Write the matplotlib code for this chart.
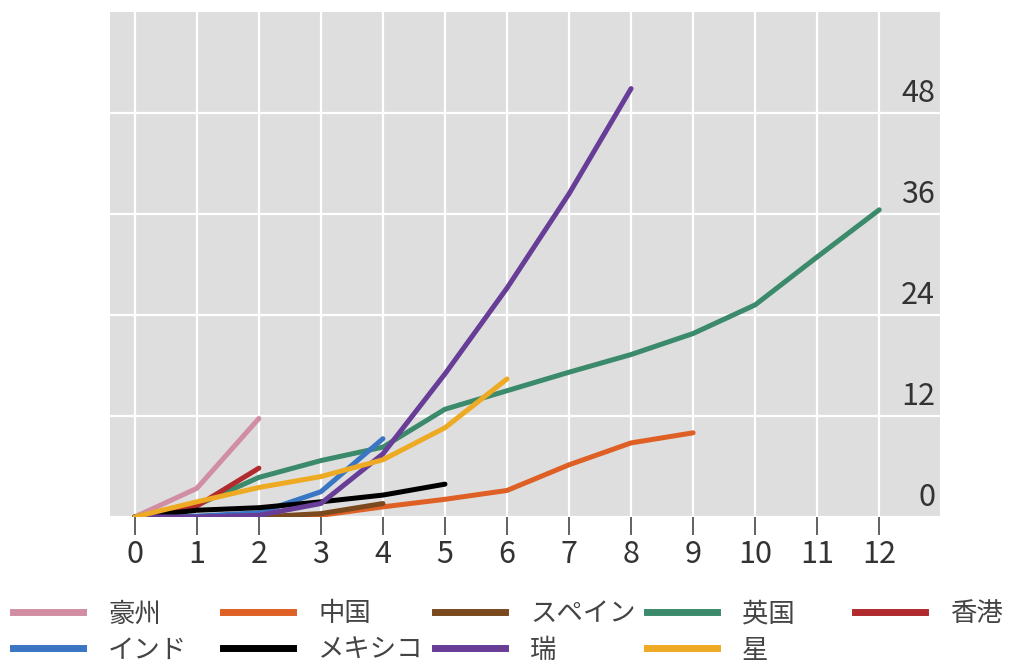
import matplotlib
matplotlib.use("Agg")
import matplotlib.pyplot as plt
import matplotlib.transforms as mtransforms
from matplotlib.lines import Line2D

plt.rcParams['font.family'] = ['Noto Sans CJK JP', 'DejaVu Sans']

# series in drawing order
names = ["豪州", "中国", "スペイン", "英国", "香港", "インド", "メキシコ", "瑞", "星"]
colors = ["#d18ea3", "#de6025", "#7a4a1e", "#3b8a6c", "#b02a2e",
          "#3a76c4", "#000000", "#673d97", "#eeaa22"]

aus = [0, 3.4, 11.7]
china = [0, 0, 0, 0.2, 1.2, 2.1, 3.15, 6.2, 8.8, 10.0]
spain = [0, 0, 0, 0.4, 1.6]
uk = [0, 1.4, 4.7, 6.7, 8.3, 12.8, 15.0, 17.2, 19.3, 21.8, 25.2, 30.9, 36.5]
hk = [0, 1.3, 5.8]
india = [0, 0.1, 0.5, 3.0, 9.3]
mexico = [0, 0.8, 1.1, 1.8, 2.6, 3.9]
swiss = [0, 0, 0.2, 1.6, 7.5, 17.0, 27.2, 38.4, 50.9]
sing = [0, 1.8, 3.5, 4.8, 6.8, 10.6, 16.4]
series = [aus, china, spain, uk, hk, india, mexico, swiss, sing]

x_ticks = list(range(13))
y_ticks = [0, 12, 24, 36, 48]

fig = plt.figure(figsize=(10.25, 6.7), dpi=100)
ax = fig.add_axes([0.1073, 0.2284, 0.8098, 0.7537])
ax.set_facecolor("#dedede")

for vals, c in zip(series, colors):
    ax.plot(range(len(vals)), vals, color=c, linewidth=3.6,
            solid_capstyle='round', solid_joinstyle='round')

ax.set_xlim(-0.4, 12.98)
ax.set_ylim(0, 60)
ax.set_xticks(x_ticks)
ax.set_yticks(y_ticks)
ax.set_yticklabels([])
ax.grid(True, color="white", linewidth=1.6)
ax.set_axisbelow(True)
for s in ax.spines.values():
    s.set_visible(False)

ax.tick_params(axis='x', length=13, width=1.3, color="#555555", pad=3,
               labelsize=22, labelcolor="#333333")
ax.tick_params(axis='y', length=0)

# y labels sit inside the panel, above their grid line
trans = mtransforms.blended_transform_factory(ax.transAxes, ax.transData)
offset = mtransforms.ScaledTranslation(-5 / 100, 19 / 100, fig.dpi_scale_trans)
for v in ax.get_yticks():
    ax.text(1, v, f"{v:.0f}", transform=trans + offset, ha='right', va='center',
            fontsize=22, color="#333333")

# legend: 5 evenly spaced columns, two rows (row-major order of names)
col_x = [13, 223, 435, 647, 855]
for col in range(5):
    idx = [i for i in (col, col + 5) if i < len(names)]
    handles = [Line2D([], [], color=colors[i], linewidth=5) for i in idx]
    labels = [names[i] for i in idx]
    fig.legend(handles, labels, loc='upper left',
               bbox_to_anchor=(col_x[col] / 1025, 0.104),
               frameon=False, fontsize=19, handlelength=2.65,
               handletextpad=0.95, labelspacing=0.35,
               borderpad=0, borderaxespad=0, labelcolor="#444444")

fig.savefig("out.png", dpi=100)
